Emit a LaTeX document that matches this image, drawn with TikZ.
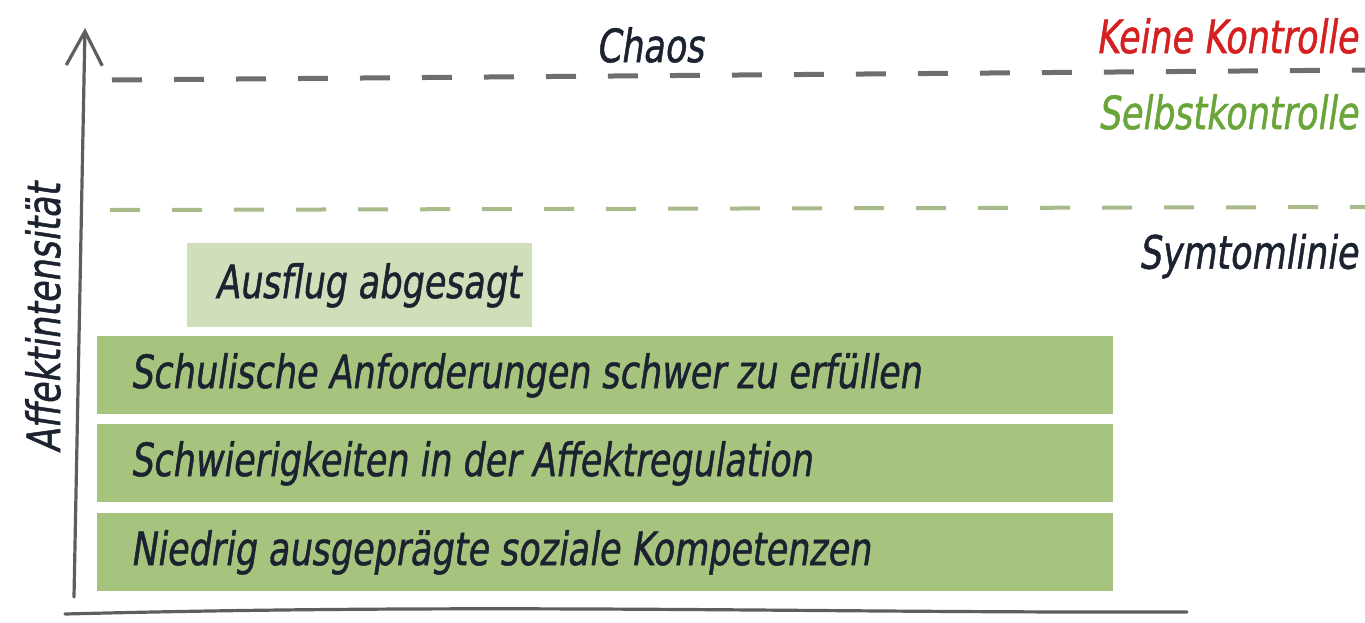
\documentclass[tikz,border=0pt]{standalone}
\usepackage{fontspec}
\newfontfamily\hand[FakeSlant=0.15,FakeStretch=0.76,FakeBold=1]{DejaVu Sans}
\usetikzlibrary{arrows.meta}
\definecolor{barGreen}{HTML}{A6C47E}
\definecolor{paleGreen}{HTML}{CFDFB9}
\definecolor{lineGreen}{HTML}{A9BB8A}
\definecolor{lineGray}{HTML}{5E5E5E}
\definecolor{inkRed}{HTML}{D42020}
\definecolor{inkGreen}{HTML}{6AA53A}
\definecolor{ink}{HTML}{1C2230}
\tikzset{
  hand/.style={font=\hand\fontsize{23}{27}\selectfont, text=ink, inner sep=0pt},
  barbox/.style={fill=barGreen, minimum width=508pt, minimum height=39pt, inner sep=0pt, anchor=north west},
  axis/.style={draw=lineGray, line width=1.6pt, line cap=round},
  level/.style={line width=2.5pt, dash pattern=on 15pt off 16pt}
}
\begin{document}
\begin{tikzpicture}[x=0.5pt, y=-0.5pt]
  \useasboundingbox (0,0) rectangle (1365,622);
  % levels
  \coordinate (chaosL) at (112,80);
  \coordinate (chaosR) at (1365,70);
  \coordinate (symL) at (110,210);
  \coordinate (symR) at (1365,207);
  \draw[level, draw=lineGray!90] (chaosL) -- (chaosR);
  \draw[level, draw=lineGreen, line width=2pt] (symL) -- (symR);
  % bars
  \node[barbox, fill=paleGreen, minimum width=172.5pt, minimum height=42pt] (ausflug) at (187,243) {};
  \node[barbox] (b1) at (97,336) {};
  \node[barbox] (b2) at (97,424) {};
  \node[barbox] (b3) at (97,513) {};
  \node[hand, anchor=west] (t0) at ([xshift=14pt]ausflug.west) {Ausflug abgesagt};
  \node[hand, anchor=west] (t1) at ([xshift=16.5pt]b1.west) {Schulische Anforderungen schwer zu erfüllen};
  \node[hand, anchor=west] (t2) at ([xshift=16.5pt]b2.west) {Schwierigkeiten in der Affektregulation};
  \node[hand, anchor=west] (t3) at ([xshift=16.5pt]b3.west) {Niedrig ausgeprägte soziale Kompetenzen};
  % labels
  \node[hand] (chaos) at (650,45) {Chaos};
  \node[hand, text=inkRed, anchor=east] (keine) at (1358,36) {Keine Kontrolle};
  \node[hand, text=inkGreen, anchor=east] (selbst) at (1358,112) {Selbstkontrolle};
  \node[hand, anchor=east] (symptom) at (1358,256) {Symtomlinie};
  \node[hand, rotate=90] (ylabel) at (43,318) {Affektintensität};
  % axes
  \coordinate (origin) at (74,597);
  \coordinate (ytop) at (85,28);
  \coordinate (xstart) at (65,614);
  \coordinate (xend) at (1187,612);
  \draw[axis, -{Straight Barb[length=17pt, width=18pt, line width=1.6pt]}] (origin) -- (ytop);
  \draw[axis] (xstart) .. controls (500,603) and (800,613) .. (xend);
\end{tikzpicture}
\end{document}
